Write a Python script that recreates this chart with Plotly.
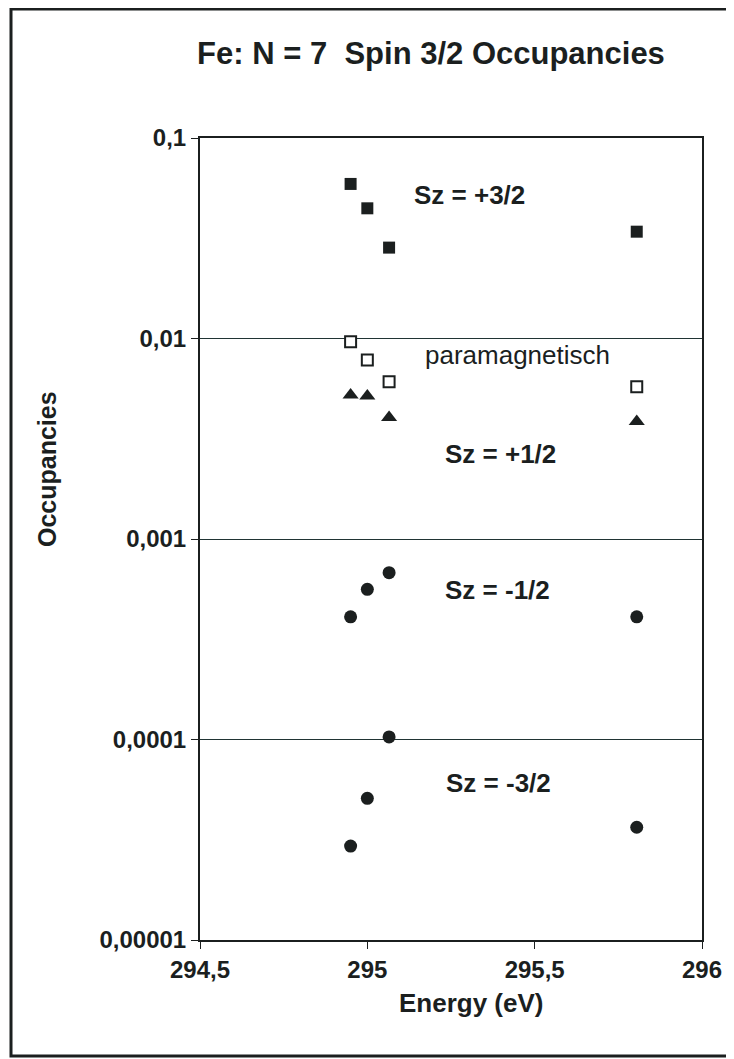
import plotly.graph_objects as go

# ---- data ----
energy_left = [294.95, 295.0, 295.065]
energy_right = [295.805]

sz_p32 = [0.0590, 0.0446, 0.0284, 0.0341]          # filled squares
paramag = [0.00964, 0.00781, 0.00609, 0.00575]     # open squares
sz_p12 = [0.00523, 0.00516, 0.00404, 0.00385]      # triangles
sz_m12 = [0.000409, 0.000561, 0.000679, 0.000409]  # circles
sz_m32 = [0.0000294, 0.0000509, 0.000103, 0.0000365]  # circles

x_ticks = [294.5, 295, 295.5, 296]
y_ticks = [0.00001, 0.0001, 0.001, 0.01, 0.1]
y_tick_text = ["0,00001", "0,0001", "0,001", "0,01", "0,1"]

energies = energy_left + energy_right

INK = "#1b1f1f"
LINE = "#203434"
FONT = "Liberation Sans"

fig = go.Figure()

def add(y, symbol, size, open_=False):
    if open_:
        marker = dict(symbol=symbol, size=size, color="white",
                      line=dict(color=INK, width=2))
    else:
        marker = dict(symbol=symbol, size=size, color=INK,
                      line=dict(width=0))
    fig.add_trace(go.Scatter(x=energies, y=y, mode="markers", marker=marker,
                             showlegend=False, hoverinfo="x+y"))

add(sz_p32, "square", 12)
add(paramag, "square", 11, open_=True)
add(sz_p12, "triangle-up", 14)
add(sz_m12, "circle", 13)
add(sz_m32, "circle", 13)

# the page body adds an 8px offset; all targets are window pixels
OFF = 8
W, H = 734 - OFF, 1059 - OFF
PL, PR, PT, PB = 200, 702, 138, 940          # plot area in window pixels
L, T = PL - OFF, PT - OFF
R, B = W - (PR - OFF), H - (PB - OFF)
pw, ph = PR - PL, PB - PT

def px(xp):
    return (xp - PL) / pw

def py(yp):
    return (PB - yp) / ph

bold = dict(family=FONT, size=26, color=INK, weight="bold")

labels = [
    ("Sz = +3/2", 469, 195, True),
    ("paramagnetisch", 517, 355, False),
    ("Sz = +1/2", 500, 454, True),
    ("Sz = -1/2", 497, 590, True),
    ("Sz = -3/2", 498, 783, True),
]
annotations = []
for txt, x0, y0, b in labels:
    f = dict(bold) if b else dict(family=FONT, size=26, color=INK)
    annotations.append(dict(text=txt, x=px(x0), y=py(y0), xref="paper", yref="paper",
                            showarrow=False, font=f, xanchor="center", yanchor="middle"))

annotations.append(dict(text="Occupancies", x=px(47), y=py(469), xref="paper", yref="paper",
                        showarrow=False, textangle=-90,
                        font=dict(family=FONT, size=25, color=INK, weight="bold"),
                        xanchor="center", yanchor="middle"))
annotations.append(dict(text="Energy (eV)", x=px(471), y=py(1003), xref="paper", yref="paper",
                        showarrow=False,
                        font=dict(family=FONT, size=26, color=INK, weight="bold"),
                        xanchor="center", yanchor="middle"))

# page frame of the scanned sheet
shapes = [dict(type="rect", xref="paper", yref="paper",
               x0=px(11), x1=px(730), y0=py(1056), y1=py(9),
               line=dict(color=INK, width=3), layer="below")]

fig.update_layout(
    width=W, height=H,
    margin=dict(l=L, r=R, t=T, b=B, autoexpand=False),
    paper_bgcolor="white", plot_bgcolor="white",
    separators=",.",
    title=dict(text="Fe: N = 7  Spin 3/2 Occupancies", xref="container", yref="container",
               x=(431 - OFF) / W, y=1 - (53 - OFF) / H, xanchor="center", yanchor="middle",
               font=dict(family=FONT, size=31, color=INK, weight="bold")),
    annotations=annotations,
    shapes=shapes,
    showlegend=False,
)

fig.update_xaxes(range=[294.5, 296], tickvals=x_ticks, showgrid=False, zeroline=False,
                 showline=True, mirror=True, linecolor=INK, linewidth=2,
                 ticks="outside", ticklen=7, tickcolor=INK, tickwidth=1,
                 tickfont=dict(family=FONT, size=24, color=INK, weight="bold"))
fig.update_yaxes(type="log", range=[-5, -1], tickvals=y_ticks, ticktext=y_tick_text,
                 showgrid=True, gridcolor=LINE, gridwidth=1.2, zeroline=False,
                 showline=True, mirror=True, linecolor=INK, linewidth=2,
                 ticks="outside", ticklen=7, tickcolor=INK, tickwidth=1,
                 tickfont=dict(family=FONT, size=24, color=INK, weight="bold"))

fig.write_html("out.html")
